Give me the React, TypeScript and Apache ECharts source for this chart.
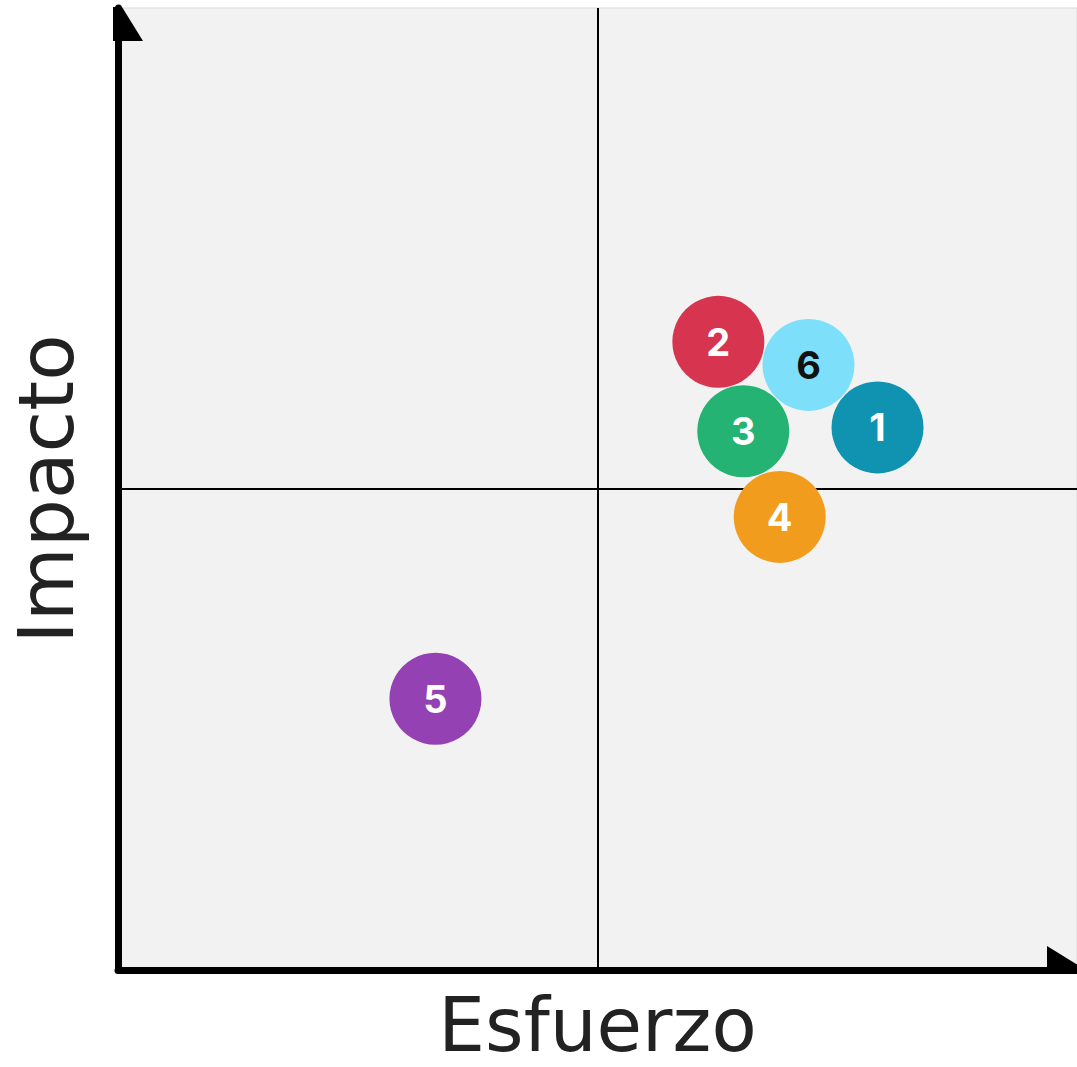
import React, { useEffect, useRef } from "react";
import * as echarts from "echarts";

const ids = ["1", "2", "3", "4", "5", "6"];
const esfuerzo = [7.92, 6.26, 6.52, 6.9, 3.31, 7.2];
const impacto = [5.64, 6.53, 5.6, 4.71, 2.82, 6.29];
const colors = ["#1093b0", "#d6344f", "#25b373", "#f29c1e", "#9441b4", "#7ddffa"];
const labelColors = ["#ffffff", "#ffffff", "#ffffff", "#ffffff", "#ffffff", "#111111"];
const xTitle = "Esfuerzo";
const yTitle = "Impacto";

export default function App() {
  const ref = useRef<HTMLDivElement>(null);
  useEffect(() => {
    if (!ref.current) return;
    const chart = echarts.init(ref.current, undefined, { renderer: "svg" });
    const font = "'DejaVu Sans', Inter, sans-serif";
    const labelFont = "Inter, 'Noto Sans', sans-serif";
    chart.setOption({
      animation: false,
      grid: {
        left: 118,
        right: 0,
        top: 8,
        bottom: 97,
        show: true,
        backgroundColor: "#f2f2f2",
        borderColor: "#dadada",
        borderWidth: 1,
      },
      xAxis: {
        type: "value",
        min: 0,
        max: 10,
        name: xTitle,
        nameLocation: "middle",
        nameGap: 18,
        nameTextStyle: { fontSize: 74, color: "#222", fontFamily: font },
        axisLine: { show: true, lineStyle: { color: "#000", width: 7 } },
        axisTick: { show: false },
        axisLabel: { show: false },
        splitLine: { show: false },
      },
      yAxis: {
        type: "value",
        min: 0,
        max: 10,
        name: yTitle,
        nameLocation: "middle",
        nameRotate: 90,
        nameGap: 34,
        nameTextStyle: { fontSize: 76, color: "#222", fontFamily: font },
        axisLine: { show: true, lineStyle: { color: "#000", width: 7 } },
        axisTick: { show: false },
        axisLabel: { show: false },
        splitLine: { show: false },
      },
      graphic: [
        {
          type: "polygon",
          shape: { points: [[113, 7], [122, 7], [143, 41], [113, 41]] },
          style: { fill: "#000" },
          z: 100,
        },
        {
          type: "polygon",
          shape: { points: [[1047, 946], [1081, 967], [1081, 973], [1047, 973]] },
          style: { fill: "#000" },
          z: 100,
        },
      ],
      series: [
        {
          type: "scatter",
          symbol: "circle",
          symbolSize: 92,
          data: ids.map((id, i) => ({
            value: [esfuerzo[i], impacto[i]],
            name: id,
            itemStyle: { color: colors[i], opacity: 1 },
            label: { color: labelColors[i] },
          })),
          label: {
            show: true,
            position: "inside",
            formatter: (p: any) => p.name,
            fontSize: 38,
            fontWeight: "bold",
            fontFamily: labelFont,
          },
          markLine: {
            silent: true,
            symbol: ["none", "none"],
            label: { show: false },
            lineStyle: { color: "#000", width: 2, type: "solid" },
            z: 1,
            data: [{ xAxis: 5 }, { yAxis: 5 }],
          },
          z: 3,
        },
      ],
    });
    return () => chart.dispose();
  }, []);
  return (
    <div
      ref={ref}
      style={{ position: "absolute", left: 0, top: 0, width: 1077, height: 1067 }}
    />
  );
}
